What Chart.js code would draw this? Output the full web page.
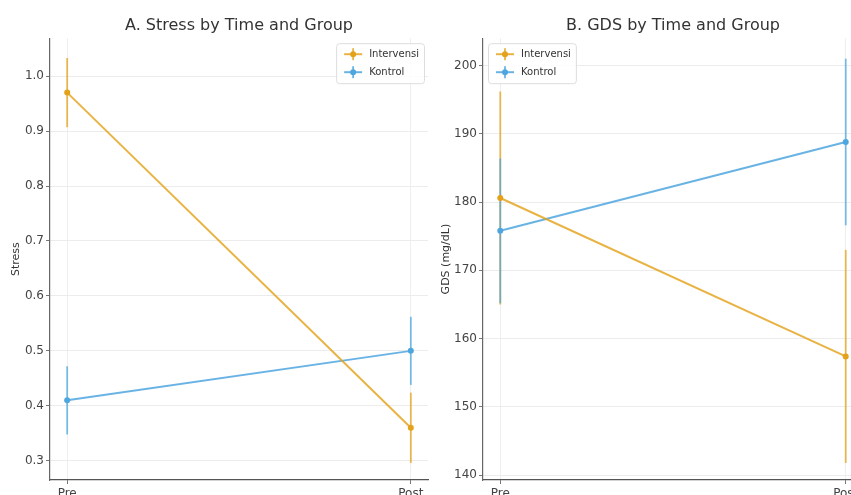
<!DOCTYPE html>
<html>
<head>
<meta charset="utf-8">
<script src="https://cdn.jsdelivr.net/npm/chart.js@4.4.0/dist/chart.umd.min.js"></script>
<style>
  html, body { margin: 0; padding: 0; background: #fff; }
  body { width: 851px; height: 495px; overflow: hidden; position: relative; }
  canvas { position: absolute; top: 0; }
  #chartStress { left: 0; }
  #chartGds { left: 430px; }
</style>
</head>
<body>
<canvas id="chartStress" width="440" height="500"></canvas>
<canvas id="chartGds" width="445" height="500"></canvas>
<script>
// Datos
const timeLabels = ['Pre', 'Post'];
const groupLabels = ['Intervensi', 'Kontrol'];

const stressIntervensi = [0.97, 0.36];
const stressIntervensiErr = [0.063, 0.064];
const stressKontrol = [0.41, 0.50];
const stressKontrolErr = [0.062, 0.062];

const gdsIntervensi = [180.6, 157.4];
const gdsIntervensiErr = [15.6, 15.6];
const gdsKontrol = [175.8, 188.8];
const gdsKontrolErr = [10.6, 12.2];

const colorIntervensi = '#E3A21A';
const colorKontrol = '#4FA6DF';
const lineIntervensi = 'rgba(227,162,26,0.82)';
const lineKontrol = 'rgba(79,166,223,0.85)';

const FONT = "'DejaVu Sans', sans-serif";

// barras de error verticales
const errorBars = {
  id: 'errorBars',
  beforeDatasetsDraw(chart) {
    const { ctx, scales: { x, y } } = chart;
    chart.data.datasets.forEach(ds => {
      ds.data.forEach((p, j) => {
        const px = x.getPixelForValue(p.x);
        ctx.save();
        ctx.strokeStyle = ds.pointBackgroundColor;
        ctx.globalAlpha = 0.75;
        ctx.lineWidth = 1.8;
        ctx.beginPath();
        ctx.moveTo(px, y.getPixelForValue(p.y - ds.errors[j]));
        ctx.lineTo(px, y.getPixelForValue(p.y + ds.errors[j]));
        ctx.stroke();
        ctx.restore();
      });
    });
  }
};

// leyenda dentro del área del gráfico
const insideLegend = {
  id: 'insideLegend',
  afterDraw(chart, args, opts) {
    const { ctx, chartArea } = chart;
    const items = chart.data.datasets;
    ctx.save();
    ctx.font = '10px ' + FONT;
    const textW = Math.max(...items.map(d => ctx.measureText(d.label).width));
    const w = 8 + 18 + 7 + textW + 5;
    const h = 40;
    const bx = opts.align === 'right' ? chartArea.right - 4 - w : chartArea.left + 5;
    const by = chartArea.top + 5;
    ctx.fillStyle = 'rgba(255,255,255,0.85)';
    ctx.strokeStyle = '#dddddd';
    ctx.lineWidth = 1;
    ctx.beginPath();
    ctx.roundRect(bx + 0.5, by + 0.5, w, h, 3);
    ctx.fill();
    ctx.stroke();
    items.forEach((d, i) => {
      const cy = by + 11 + i * 18;
      ctx.strokeStyle = d.borderColor;
      ctx.lineWidth = 2;
      ctx.beginPath();
      ctx.moveTo(bx + 8, cy);
      ctx.lineTo(bx + 26, cy);
      ctx.stroke();
      ctx.lineWidth = 1.8;
      ctx.beginPath();
      ctx.moveTo(bx + 17, cy - 6);
      ctx.lineTo(bx + 17, cy + 6);
      ctx.stroke();
      ctx.fillStyle = d.pointBackgroundColor;
      ctx.beginPath();
      ctx.arc(bx + 17, cy, 3, 0, Math.PI * 2);
      ctx.fill();
      ctx.fillStyle = '#333';
      ctx.textBaseline = 'middle';
      ctx.fillText(d.label, bx + 33, cy);
    });
    ctx.restore();
  }
};

function serie(label, values, errs, color, lineColor) {
  return {
    label: label,
    data: values.map((v, i) => ({ x: i, y: v })),
    errors: errs,
    borderColor: lineColor,
    backgroundColor: color,
    pointBackgroundColor: color,
    borderWidth: 2,
    pointRadius: 3,
    pointBorderWidth: 0,
    tension: 0
  };
}

function crearGrafico(id, cfg) {
  return new Chart(document.getElementById(id), {
    type: 'line',
    data: { datasets: cfg.datasets },
    options: {
      responsive: false,
      animation: false,
      layout: { padding: { left: 0, right: 12, top: 0, bottom: 0 } },
      plugins: {
        legend: { display: false },
        tooltip: { enabled: false },
        title: {
          display: true,
          fullSize: false,
          text: cfg.title,
          color: '#333',
          font: { family: FONT, size: 16, weight: 'normal' },
          padding: { top: 16, bottom: 3 }
        },
        insideLegend: { align: cfg.legendAlign }
      },
      scales: {
        x: {
          type: 'linear',
          min: -0.05,
          max: 1.05,
          afterBuildTicks: s => { s.ticks = timeLabels.map((_, i) => ({ value: i })); },
          afterFit: s => { s.height = 20; },
          ticks: {
            callback: v => timeLabels[v],
            color: '#444',
            font: { family: FONT, size: 12 },
            padding: 3,
            maxRotation: 0
          },
          grid: { color: '#efefef', tickColor: '#777', tickLength: 4 },
          border: { color: '#555', width: 1.2 }
        },
        y: {
          min: cfg.yMin,
          max: cfg.yMax,
          afterFit: s => { s.width = cfg.yWidth; },
          ticks: {
            stepSize: cfg.step,
            includeBounds: false,
            callback: v => v.toFixed(cfg.decimals),
            color: '#444',
            font: { family: FONT, size: 12 },
            padding: 2
          },
          title: {
            display: true,
            text: cfg.yTitle,
            color: '#333',
            font: { family: FONT, size: 11 },
            padding: { top: cfg.titlePad, bottom: 0 }
          },
          grid: { color: '#ececec', tickColor: '#777', tickLength: 4 },
          border: { color: '#666', width: 1.2 }
        }
      }
    },
    plugins: [errorBars, insideLegend]
  });
}

crearGrafico('chartStress', {
  title: 'A. Stress by Time and Group',
  yTitle: 'Stress',
  yMin: 0.265, yMax: 1.069, step: 0.1, decimals: 1,
  yWidth: 50, titlePad: 10,
  legendAlign: 'right',
  datasets: [
    serie(groupLabels[0], stressIntervensi, stressIntervensiErr, colorIntervensi, lineIntervensi),
    serie(groupLabels[1], stressKontrol, stressKontrolErr, colorKontrol, lineKontrol)
  ]
});

crearGrafico('chartGds', {
  title: 'B. GDS by Time and Group',
  yTitle: 'GDS (mg/dL)',
  yMin: 139.3, yMax: 204, step: 10, decimals: 0,
  yWidth: 53, titlePad: 10,
  legendAlign: 'left',
  datasets: [
    serie(groupLabels[0], gdsIntervensi, gdsIntervensiErr, colorIntervensi, lineIntervensi),
    serie(groupLabels[1], gdsKontrol, gdsKontrolErr, colorKontrol, lineKontrol)
  ]
});
</script>
</body>
</html>
